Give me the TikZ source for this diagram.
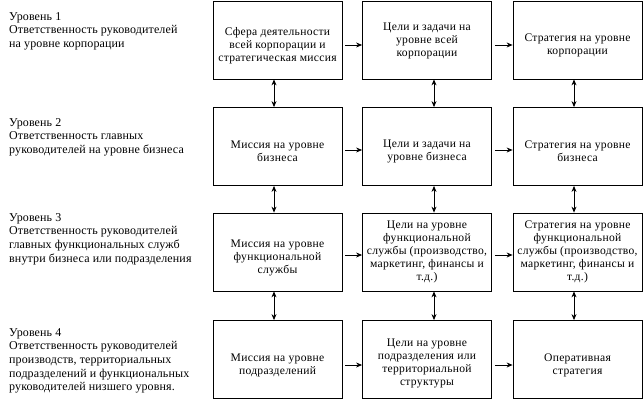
\documentclass[tikz,border=0pt]{standalone}
\usepackage{fontspec}
\setmainfont{Liberation Serif}
\newfontfamily\tnrbox[LetterSpace=2.5]{Liberation Serif}
\newfontfamily\tnrlvl[LetterSpace=1]{Liberation Serif}
\usetikzlibrary{arrows.meta}
\tikzset{
  box/.style={draw, line width=0.8pt, minimum width=129pt, minimum height=78pt, inner sep=0pt},
  boxtext/.style={align=center, font=\tnrbox\fontsize{11.6}{13}\selectfont, inner sep=0pt},
  lvl/.style={align=left, anchor=north west, font=\tnrlvl\fontsize{12}{13.7}\selectfont, inner sep=0pt},
  harrow/.style={line width=0.8pt, -{Stealth[length=6pt,width=5pt]}},
  varrow/.style={line width=0.8pt, {Stealth[length=6pt,width=5pt]}-{Stealth[length=6pt,width=5pt]}}
}
\begin{document}
\begin{tikzpicture}[x=1pt,y=-1pt]
\useasboundingbox (0,0) rectangle (644,401);
% boxes
\foreach \r/\y in {1/40,2/146.5,3/252,4/359.5}{
  \node[box] (b\r1) at (277.5,\y) {};
  \node[box] (b\r2) at (427,\y) {};
  \node[box] (b\r3) at (577.5,\y) {};
}
% box texts
\node[boxtext] (t11) at ([yshift=-6pt]b11.center) {Сфера деятельности\\всей корпорации и\\стратегическая миссия};
\node[boxtext] (t12) at ([yshift=-1pt]b12.center) {Цели и задачи на\\уровне всей\\корпорации};
\node[boxtext] (t13) at ([yshift=-5pt]b13.center) {Стратегия на уровне\\корпорации};
\node[boxtext] (t21) at ([yshift=-5pt]b21.center) {Миссия на уровне\\бизнеса};
\node[boxtext] (t22) at ([yshift=-5pt]b22.center) {Цели и задачи на\\уровне бизнеса};
\node[boxtext] (t23) at ([yshift=-5pt]b23.center) {Стратегия на уровне\\бизнеса};
\node[boxtext] (t31) at ([yshift=-6pt]b31.center) {Миссия на уровне\\функциональной\\службы};
\node[boxtext] (t32) at ([yshift=0pt]b32.center) {Цели на уровне\\функциональной\\службы (производство,\\маркетинг, финансы и\\т.д.)};
\node[boxtext] (t33) at ([yshift=0pt]b33.center) {Стратегия на уровне\\функциональной\\службы (производство,\\маркетинг, финансы и\\т.д.)};
\node[boxtext] (t41) at ([yshift=-6pt]b41.center) {Миссия на уровне\\подразделений};
\node[boxtext] (t42) at ([yshift=-4pt]b42.center) {Цели на уровне\\подразделения или\\территориальной\\структуры};
\node[boxtext] (t43) at ([yshift=-6pt]b43.center) {Оперативная\\стратегия};
% level labels
\node[lvl] (l1) at (9,12) {Уровень 1\\Ответственность руководителей\\на уровне корпорации};
\node[lvl] (l2) at (9,118) {Уровень 2\\Ответственность главных\\руководителей на уровне бизнеса};
\node[lvl] (l3) at (9,213) {Уровень 3\\Ответственность руководителей\\главных функциональных служб\\внутри бизнеса или подразделения};
\node[lvl] (l4) at (9,328) {Уровень 4\\Ответственность руководителей\\производств, территориальных\\подразделений и функциональных\\руководителей низшего уровня.};
% horizontal arrows
\foreach \r/\d in {1/5,2/3.5,3/3,4/5.5}{
  \draw[harrow] ([xshift=3pt,yshift=-\d pt]b\r1.east) -- ([yshift=-\d pt]b\r2.west);
  \draw[harrow] ([xshift=3pt,yshift=-\d pt]b\r2.east) -- ([yshift=-\d pt]b\r3.west);
}
% vertical arrows
\foreach \r/\s in {1/2,2/3,3/4}{
  \draw[varrow] ([xshift=-3.5pt]b\r1.south) -- ([xshift=-3.5pt]b\s1.north);
  \draw[varrow] ([xshift=7pt]b\r2.south) -- ([xshift=7pt]b\s2.north);
  \draw[varrow] ([xshift=-3.5pt]b\r3.south) -- ([xshift=-3.5pt]b\s3.north);
}
\end{tikzpicture}
\end{document}
